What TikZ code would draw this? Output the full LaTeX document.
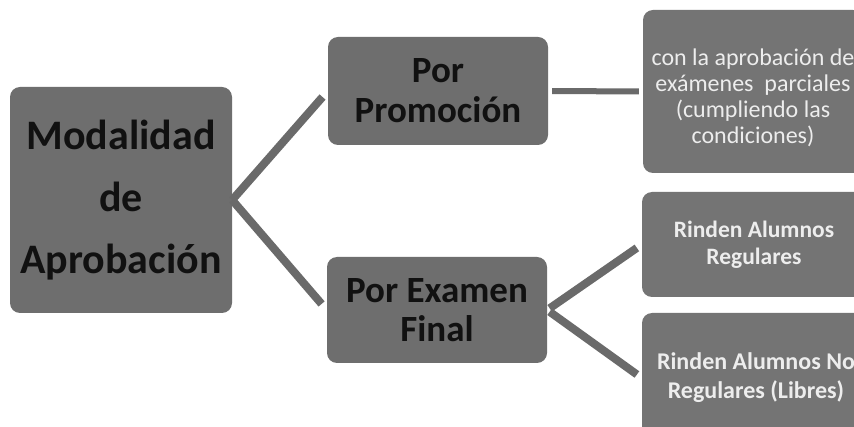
\documentclass[tikz,border=0pt]{standalone}
\usepackage{fontspec}
\setmainfont{Carlito}
\definecolor{boxgray}{HTML}{6E6E6E}
\definecolor{boxgrayR}{HTML}{747474}
\definecolor{linegray}{HTML}{6A6A6A}
\definecolor{lighttext}{HTML}{EDEDED}
\definecolor{darktext}{HTML}{111111}
\begin{document}
\begin{tikzpicture}[x=1pt,y=-1pt,
  box/.style={draw=none, fill=boxgray, rounded corners=10pt, align=center, inner sep=0pt, text=darktext},
  rbox/.style={draw=none, fill=boxgrayR, rounded corners=10pt, align=center, inner sep=0pt, text=lighttext},
  conn/.style={draw=linegray, line width=8pt}]
\useasboundingbox (0,0) rectangle (854,427);
\clip (0,0) rectangle (854,427);
\fill[white] (0,0) rectangle (854,427);

\node[box, minimum width=222pt, minimum height=226pt,
  font=\bfseries\fontsize{42}{62}\selectfont] (main) at (121,200)
  {Modalidad\\de\\Aprobación};
\node[box, minimum width=220pt, minimum height=108pt,
  font=\bfseries\fontsize{37}{40}\selectfont] (promo) at (438,91)
  {Por\\Promoción};
\node[box, minimum width=220pt, minimum height=106pt,
  font=\bfseries\fontsize{37}{39}\selectfont] (exam) at (437,310)
  {Por Examen\\Final};

\node[rbox, minimum width=220pt, minimum height=163pt] (parc) at (753,91.5) {};
\node[text=lighttext, align=center, inner sep=0pt,
  font=\fontsize{24}{26}\selectfont] (parctext) at ([yshift=-6pt]parc.center)
  {con la aprobación de\\exámenes\ \ parciales\\(cumpliendo las\\condiciones)};
\node[rbox, minimum width=224pt, minimum height=105pt,
  font=\bfseries\fontsize{23.5}{27}\selectfont] (reg) at (754,244.5)
  {Rinden Alumnos\\Regulares};
\node[rbox, minimum width=228pt, minimum height=130pt,
  font=\bfseries\fontsize{24}{29}\selectfont] (lib) at (756,378)
  {Rinden Alumnos No\\Regulares (Libres)};

\draw[conn, shorten >=8pt] (main.east) -- (promo.west);
\draw[conn, shorten >=8pt] (main.east) -- (exam.west);
\draw[conn, line width=6pt, shorten <=4pt, shorten >=4pt] (promo.east) -- (parc.west);
\draw[conn, shorten <=3pt, shorten >=6pt] (exam.east) -- (reg.west);
\draw[conn, shorten <=3pt, shorten >=6pt] (exam.east) -- (lib.west);
\end{tikzpicture}
\end{document}
